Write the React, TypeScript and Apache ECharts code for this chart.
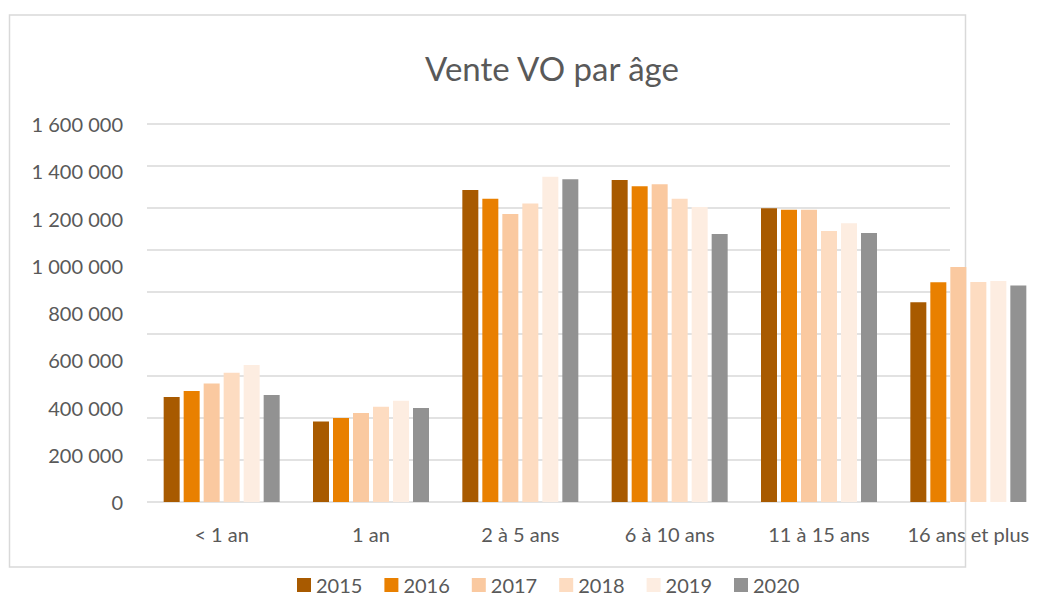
import React, { useEffect, useRef } from "react";
import * as echarts from "echarts";

const categories = ["< 1 an", "1 an", "2 à 5 ans", "6 à 10 ans", "11 à 15 ans", "16 ans et plus"];
const years = ["2015", "2016", "2017", "2018", "2019", "2020"];
const yearColors = ["#A85A00", "#E98000", "#FAC9A0", "#FDDCC1", "#FDEDE1", "#929292"];
const v2015 = [444000, 341000, 1321000, 1363000, 1243000, 845000];
const v2016 = [470000, 356000, 1284000, 1336000, 1237000, 930000];
const v2017 = [502000, 377000, 1219000, 1345000, 1237000, 995000];
const v2018 = [547000, 403000, 1263000, 1284000, 1147000, 931000];
const v2019 = [580000, 429000, 1377000, 1249000, 1180000, 935000];
const v2020 = [453000, 398000, 1366000, 1134000, 1139000, 916000];
const seriesValues = [v2015, v2016, v2017, v2018, v2019, v2020];
const yMax = 1600000;
const yStep = 200000;
const gridLineCount = 9;

const fmt = (v: number) => String(v).replace(/\B(?=(\d{3})+(?!\d))/g, " ");

export default function App() {
  const ref = useRef<HTMLDivElement>(null);
  useEffect(() => {
    if (!ref.current) return;
    const chart = echarts.init(ref.current, undefined, { renderer: "svg" });
    const font = "Lato, 'Open Sans', sans-serif";
    chart.setOption({
      animation: false,
      backgroundColor: "#ffffff",
      textStyle: { fontFamily: font },
      title: {
        text: "Vente VO par âge",
        left: 547,
        textAlign: "center",
        top: 46,
        textStyle: { fontFamily: font, fontSize: 33, fontWeight: "normal", color: "#595959" },
      },
      legend: {
        left: 297,
        top: 574,
        padding: 0,
        itemWidth: 14,
        itemHeight: 14,
        itemGap: 22,
        icon: "rect",
        textStyle: { fontFamily: font, fontSize: 20, color: "#595959", lineHeight: 22 },
        data: years,
      },
      graphic: [
        {
          type: "rect",
          shape: { x: 9.5, y: 15, width: 956, height: 552 },
          style: { fill: "none", stroke: "#d9d9d9", lineWidth: 1.5 },
          z: -1,
        },
      ],
      grid: [
        { left: 147, top: 124, width: 803, height: 378 },
        { left: 147, top: 124, width: 905, height: 378 },
      ],
      xAxis: [
        { type: "value", gridIndex: 0, show: false, min: 0, max: 1 },
        {
          type: "category",
          gridIndex: 1,
          data: categories,
          axisLine: { show: false },
          axisTick: { show: false },
          axisLabel: { interval: 0, fontFamily: font, fontSize: 20, color: "#595959", margin: 22 },
        },
      ],
      yAxis: [
        {
          type: "value",
          gridIndex: 0,
          min: 0,
          max: gridLineCount,
          interval: 1,
          axisLabel: { show: false },
          axisLine: { show: false },
          axisTick: { show: false },
          splitLine: { show: true, lineStyle: { color: "#d9d9d9", width: 1.5 } },
        },
        {
          type: "value",
          gridIndex: 1,
          min: 0,
          max: yMax,
          interval: yStep,
          axisLine: { show: false },
          axisTick: { show: false },
          splitLine: { show: false },
          axisLabel: {
            fontFamily: font,
            fontSize: 20,
            color: "#595959",
            margin: 24,
            padding: [6, 0, 0, 0],
            formatter: (v: number) => fmt(v),
          },
        },
      ],
      series: years.map((y, i) => ({
        name: y,
        type: "bar",
        xAxisIndex: 1,
        yAxisIndex: 1,
        data: seriesValues[i],
        barWidth: 16,
        barGap: "25%",
        itemStyle: { color: yearColors[i] },
      })),
    });
    return () => chart.dispose();
  }, []);
  return (
    <div
      ref={ref}
      style={{ position: "fixed", left: 0, top: 0, width: 1043, height: 601 }}
    />
  );
}
